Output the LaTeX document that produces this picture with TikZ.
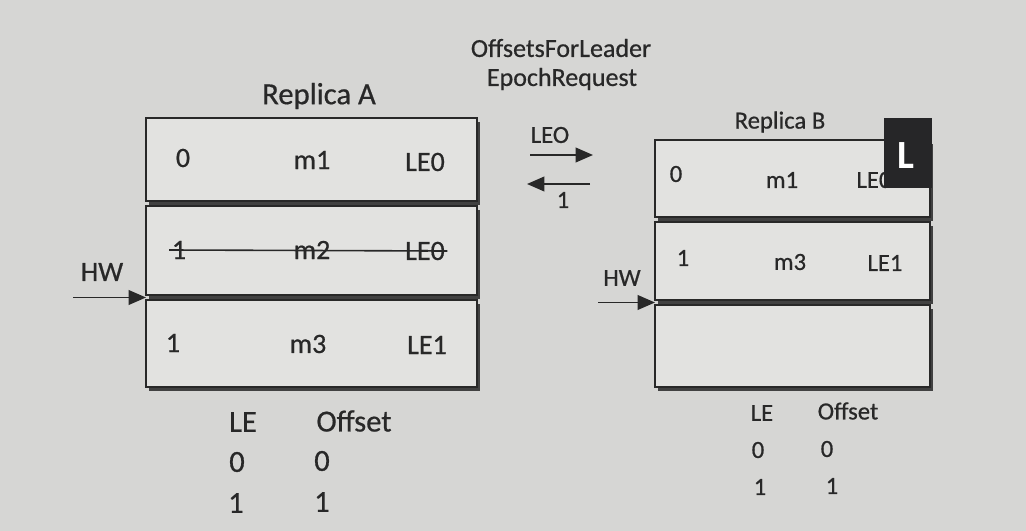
\documentclass[tikz,border=0pt]{standalone}
\usepackage{fontspec}
\setmainfont[UprightFeatures={FakeBold=0.6}]{Carlito}
\usetikzlibrary{arrows.meta,shadows}
\definecolor{bg}{RGB}{214,214,212}
\definecolor{cellfill}{RGB}{226,226,224}
\definecolor{ink}{RGB}{40,40,40}
\definecolor{lbox}{RGB}{38,38,40}
\begin{document}
\begin{tikzpicture}[x=0.75pt,y=-0.75pt,
  every node/.style={text=ink, inner sep=0pt, outer sep=0pt},
  txtA/.style={font=\fontsize{21}{23}\selectfont},
  txtB/.style={font=\fontsize{18.5}{20}\selectfont},
  tabA/.style={font=\fontsize{23}{25}\selectfont},
  big/.style={font=\fontsize{19.5}{22}\selectfont},
  cell/.style={draw=ink, line width=1.1pt, fill=cellfill,
    drop shadow={shadow xshift=2pt, shadow yshift=-3pt, fill=ink, opacity=0.85}},
  arr/.style={draw=ink, line width=1.3pt, -{Triangle[length=13pt,width=11pt,fill=ink]}}]
\path[fill=bg] (0,0) rectangle (1026,531);

% Replica A
\node[tabA] (titleA) at (319,96) {Replica A};
\node[cell, minimum width=248.25pt, minimum height=62.25pt] (a1) at (311.5,159.5) {};
\node[cell, minimum width=248.25pt, minimum height=66.75pt] (a2) at (311.5,250.5) {};
\node[cell, minimum width=248.25pt, minimum height=65.25pt] (a3) at (311.5,343.5) {};
\node[txtA] (a1o) at (183,158) {0};
\node[txtA] (a1m) at (312,160) {m1};
\node[txtA] (a1e) at (425,162) {LE0};
\node[txtA] (a2o) at (179,250) {1};
\node[txtA] (a2m) at (312,250) {m2};
\node[txtA] (a2e) at (425,251) {LE0};
\draw[ink, line width=1.2pt] ([xshift=-2pt]a2o.west) -- ([xshift=2pt]a2e.east);
\node[txtA] (a3o) at (173,343) {1};
\node[txtA] (a3m) at (308,344) {m3};
\node[txtA] (a3e) at (427,345) {LE1};
\node[txtA] (hwA) at (102,272) {HW};
\coordinate (hwAs) at (73,297.5);
\coordinate (hwAt) at (146,297.5);
\draw[arr] (hwAs) -- (hwAt);

\node[tabA] (leA) at (243,422) {LE};
\node[tabA] (ofA) at (354,421) {Offset};
\node[tabA] (leA0) at (237,462) {0};
\node[tabA] (ofA0) at (322,461) {0};
\node[tabA] (leA1) at (236,503) {1};
\node[tabA] (ofA1) at (322,502) {1};

% Middle
\node[big] (req1) at (561,48) {OffsetsForLeader};
\node[big] (req2) at (562,79) {EpochRequest};
\node[txtB] (leo) at (550,135) {LEO};
\coordinate (r1s) at (530,155);
\coordinate (r1t) at (593,155);
\draw[arr] (r1s) -- (r1t);
\coordinate (r2s) at (590,184);
\coordinate (r2t) at (527,184);
\draw[arr] (r2s) -- (r2t);
\node[txtB] (one) at (563,200) {1};

% Replica B
\node[txtB] (titleB) at (780,122) {Replica B};
\node[cell, minimum width=206.25pt, minimum height=57.75pt] (b1) at (792.5,178.5) {};
\node[cell, minimum width=206.25pt, minimum height=58.5pt] (b2) at (792.5,261) {};
\node[cell, minimum width=206.25pt, minimum height=61.5pt] (b3) at (792.5,346) {};
\node[txtB] (b1o) at (676,174) {0};
\node[txtB] (b1m) at (782,180) {m1};
\node[txtB] (b1e) at (874,180) {LE0};
\node[fill=lbox, minimum width=36pt, minimum height=52.5pt] (lbox) at (908,153) {};
\node[font=\fontsize{30}{30}\bfseries\selectfont, text=white] (lL) at (906,156) {L};
\node[txtB] (b2o) at (683,258) {1};
\node[txtB] (b2m) at (790,262) {m3};
\node[txtB] (b2e) at (885,263) {LE1};
\node[txtB] (hwB) at (622,278) {HW};
\coordinate (hwBs) at (598,302.5);
\coordinate (hwBt) at (655,302.5);
\draw[arr] (hwBs) -- (hwBt);

\node[txtB] (leB) at (762,413) {LE};
\node[txtB] (ofB) at (848,411) {Offset};
\node[txtB] (leB0) at (758,450) {0};
\node[txtB] (ofB0) at (827,449) {0};
\node[txtB] (leB1) at (760,487) {1};
\node[txtB] (ofB1) at (832,486) {1};
\end{tikzpicture}
\end{document}
